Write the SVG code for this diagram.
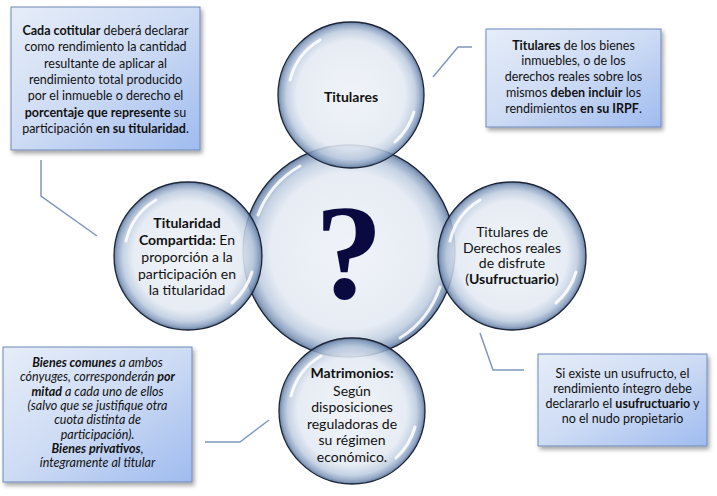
<svg xmlns="http://www.w3.org/2000/svg" width="717" height="496" viewBox="0 0 717 496">
<defs>
<linearGradient id="boxg" x1="0" y1="0" x2="1" y2="1">
<stop offset="0" stop-color="#e6edf9"/>
<stop offset="0.5" stop-color="#cddbf4"/>
<stop offset="1" stop-color="#9fbbef"/>
</linearGradient>
<radialGradient id="bub" cx="0.5" cy="0.5" r="0.5">
<stop offset="0" stop-color="#eef2f8" stop-opacity="0.9"/>
<stop offset="0.74" stop-color="#e4eaf3" stop-opacity="0.88"/>
<stop offset="0.88" stop-color="#bccbdf" stop-opacity="0.85"/>
<stop offset="0.96" stop-color="#8098bb" stop-opacity="0.85"/>
<stop offset="1" stop-color="#566f93" stop-opacity="0.9"/>
</radialGradient>
<filter id="sh" x="-10%" y="-10%" width="125%" height="130%">
<feDropShadow dx="2" dy="3" stdDeviation="2" flood-color="#000" flood-opacity="0.35"/>
</filter>
</defs>
<style>
.box{fill:url(#boxg);stroke:#6f89b8;stroke-width:1;filter:url(#sh)}
.bub{fill:url(#bub);stroke:#1c2538;stroke-width:1.3}
.hl{fill:none;stroke:#ffffff;stroke-width:3;stroke-linecap:round;opacity:0.85}
.con{fill:none;stroke:#7f97bf;stroke-width:1.5}
text{font-family:Lato,"Liberation Sans",sans-serif;fill:#111;text-anchor:middle}
.bt{font-size:12.5px}
.ct{font-size:14px}
.b{font-weight:bold}
.it{font-style:italic}
.q{font-family:"Liberation Serif","DejaVu Serif",serif;font-weight:bold;font-size:136px;fill:#0a0a40}
</style>

<g id="connectors">
<polyline class="con" points="41,160 41,196 97,236"/>
<polyline class="con" points="433,77 458,47 472,47"/>
<polyline class="con" points="480,333 493,370 524,370"/>
<polyline class="con" points="205,442 240,442 269,420"/>
</g>

<g id="box-cotitular">
<rect class="box" x="11" y="7" width="189" height="143"/>
<text class="bt" x="105.5"><tspan x="105.5" y="35"><tspan class="b">Cada cotitular</tspan>  deberá declarar</tspan><tspan x="105.5" y="51.3">como rendimiento la cantidad</tspan><tspan x="105.5" y="67.6">resultante de aplicar al</tspan><tspan x="105.5" y="84">rendimiento total  producido</tspan><tspan x="105.5" y="100.2">por el inmueble o derecho el</tspan><tspan x="105.5" y="116.5"><tspan class="b">porcentaje que represente</tspan> su</tspan><tspan x="105.5" y="132.8">participación <tspan class="b">en su titularidad</tspan>.</tspan></text>
</g>

<g id="box-titulares">
<rect class="box" x="486" y="29" width="175" height="98"/>
<text class="bt" x="573.5"><tspan x="573.5" y="49.5"><tspan class="b">Titulares</tspan> de los bienes</tspan><tspan x="573.5" y="65.3">inmuebles, o de los</tspan><tspan x="573.5" y="81.1">derechos reales sobre los</tspan><tspan x="573.5" y="96.9">mismos <tspan class="b">deben incluir</tspan>  los</tspan><tspan x="573.5" y="112.7">rendimientos <tspan class="b">en  su IRPF</tspan>.</tspan></text>
</g>

<g id="box-matrimonio">
<rect class="box" x="3" y="347" width="189" height="135"/>
<text class="bt it" x="97.5"><tspan x="97.5" y="367"><tspan class="b">Bienes comunes</tspan>  a ambos</tspan><tspan x="97.5" y="381.3">cónyuges, corresponderán <tspan class="b">por</tspan></tspan><tspan x="97.5" y="395.6"><tspan class="b">mitad</tspan> a cada uno de ellos</tspan><tspan x="97.5" y="409.9">(salvo que se justifique otra</tspan><tspan x="97.5" y="424.2">cuota distinta de</tspan><tspan x="97.5" y="438.5">participación).</tspan><tspan x="97.5" y="452.8" class="b">Bienes privativos<tspan font-weight="normal">,</tspan></tspan><tspan x="97.5" y="467.1">íntegramente al titular</tspan></text>
</g>

<g id="box-usufructo">
<rect class="box" x="538" y="354" width="169" height="92"/>
<text class="bt" x="622.5"><tspan x="622.5" y="377.5">Si existe un usufructo, el</tspan><tspan x="622.5" y="392.5">rendimiento íntegro debe</tspan><tspan x="622.5" y="407.5">declararlo el <tspan class="b">usufructuario</tspan>  y</tspan><tspan x="622.5" y="422.5">no el nudo propietario</tspan></text>
</g>

<g id="node-center">
<circle class="bub" cx="349" cy="251" r="106"/>
<path class="hl" d="M258,215 A96,96 0 0 1 300,166"/>
<path class="hl" d="M440,287 A96,96 0 0 1 400,338" opacity="0.6"/>
<text class="q" x="349" y="298">?</text>
</g>

<g id="node-top">
<circle class="bub" cx="351" cy="95" r="73"/>
<path class="hl" d="M290,80 A65,65 0 0 1 320,40"/>
<path class="hl" d="M414,112 A65,65 0 0 1 395,142" opacity="0.6"/>
<text class="ct b" x="351" y="102">Titulares</text>
</g>

<g id="node-left">
<circle class="bub" cx="188" cy="256" r="74"/>
<path class="hl" d="M126,241 A65,65 0 0 1 156,200"/>
<path class="hl" d="M252,272 A65,65 0 0 1 232,303" opacity="0.6"/>
<text class="ct" x="187"><tspan x="187" y="228" class="b">Titularidad</tspan><tspan x="187" y="245"><tspan class="b">Compartida:</tspan> En</tspan><tspan x="187" y="262">proporción a la</tspan><tspan x="187" y="278.5">participación en</tspan><tspan x="187" y="295">la titularidad</tspan></text>
</g>

<g id="node-right">
<circle class="bub" cx="512" cy="256" r="74"/>
<path class="hl" d="M450,241 A65,65 0 0 1 480,200"/>
<path class="hl" d="M576,272 A65,65 0 0 1 556,303" opacity="0.6"/>
<text class="ct" x="512"><tspan x="512" y="237">Titulares de</tspan><tspan x="512" y="252.5">Derechos reales</tspan><tspan x="512" y="268">de disfrute</tspan><tspan x="512" y="283.5">(<tspan class="b">Usufructuario</tspan>)</tspan></text>
</g>

<g id="node-bottom">
<circle class="bub" cx="352" cy="411" r="73"/>
<path class="hl" d="M291,396 A65,65 0 0 1 321,356"/>
<path class="hl" d="M415,427 A65,65 0 0 1 396,458" opacity="0.6"/>
<text class="ct" x="352"><tspan x="352" y="378" class="b">Matrimonios:</tspan><tspan x="352" y="395.5">Según</tspan><tspan x="352" y="412">disposiciones</tspan><tspan x="352" y="428.5">reguladoras de</tspan><tspan x="352" y="445">su régimen</tspan><tspan x="352" y="461.5">económico.</tspan></text>
</g>
</svg>
